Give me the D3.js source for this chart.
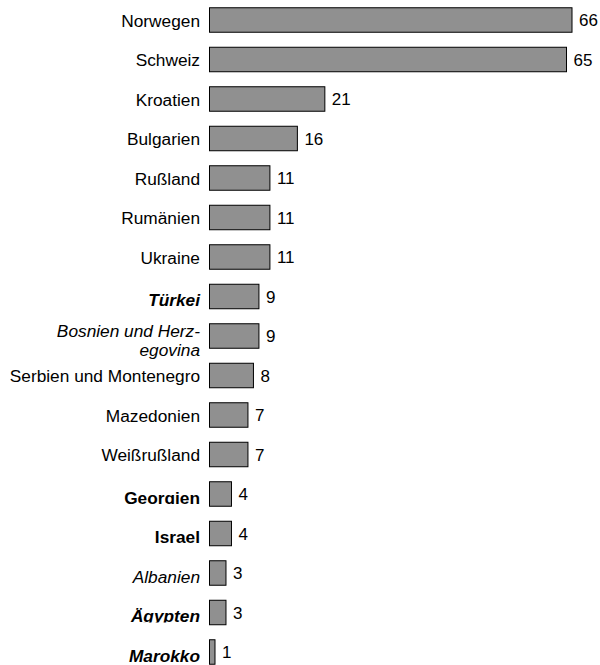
<!DOCTYPE html>
<html><head><meta charset="utf-8">
<script src="https://cdn.jsdelivr.net/npm/d3@7"></script>
<style>body{margin:0;background:#fff}svg{display:block}</style>
</head><body>
<script>
const categories = ["Norwegen","Schweiz","Kroatien","Bulgarien","Rußland","Rumänien","Ukraine","Türkei","Bosnien und Herz-\negovina","Serbien und Montenegro","Mazedonien","Weißrußland","Georgien","Israel","Albanien","Ägypten","Marokko"];
const values = [66,65,21,16,11,11,11,9,9,8,7,7,4,4,3,3,1];
const weights = ["normal","normal","normal","normal","normal","normal","normal","bold","normal","normal","normal","normal","bold","bold","normal","bold","bold"];
const styles = ["normal","normal","normal","normal","normal","normal","normal","italic","italic","normal","normal","normal","normal","normal","italic","italic","italic"];

const W = 600, H = 665;
const FONT = "Liberation Sans, Arial, sans-serif";
const svg = d3.select("body").append("svg").attr("width", W).attr("height", H);
const defs = svg.append("defs");
const x = d3.scaleLinear().domain([0, 66]).range([209.5, 572]);
const y = d3.scaleBand().domain(categories).range([0.25, 632 + 39.5 + 0.25]).paddingInner(0.38).paddingOuter(0.19);

const data = categories.map((c, i) => ({c, v: values[i], w: weights[i], s: styles[i], i}));
const g = svg.append("g");
g.selectAll("rect").data(data).join("rect")
  .attr("x", x(0)).attr("y", d => y(d.c))
  .attr("width", d => x(d.v) - x(0)).attr("height", y.bandwidth())
  .attr("fill", "#909090").attr("stroke", "#000").attr("stroke-width", 1);

g.selectAll("text.val").data(data).join("text").attr("class", "val")
  .attr("x", d => x(d.v) + 7).attr("y", d => y(d.c) + y.bandwidth() / 2)
  .attr("dy", "0.36em").attr("font-family", FONT)
  .attr("font-size", 17).attr("fill", "#000").text(d => d.v);

const LX = 200;
const lab = g.selectAll("text.lab").data(data).join("text").attr("class", "lab")
  .attr("x", LX).attr("text-anchor", "end")
  .attr("font-family", FONT)
  .attr("font-size", 17.3).attr("font-weight", d => d.w).attr("font-style", d => d.s)
  .attr("fill", "#000");
lab.each(function(d) {
  const lines = d.c.split("\n");
  const cy = y(d.c) + y.bandwidth() / 2;
  const t = d3.select(this);
  if (lines.length === 1) {
    const styled = d.w === "bold" || d.s === "italic";
    const base = cy + (styled ? 9.5 : 6.5);
    t.attr("y", base).text(lines[0]);
    if (d.w === "bold") {
      const id = "clip" + d.i;
      defs.append("clipPath").attr("id", id).append("rect")
        .attr("x", 0).attr("y", base - 30).attr("width", LX + 5).attr("height", 30.5);
      t.attr("clip-path", `url(#${id})`);
    }
  } else {
    lines.forEach((ln, k) => t.append("tspan").attr("x", LX).attr("y", cy + 0.5 + k * 19).text(ln));
  }
});
</script>
</body></html>
